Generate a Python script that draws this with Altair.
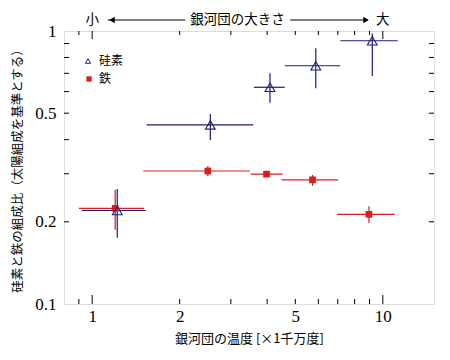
import altair as alt
import pandas as pd

# ---------------- data ----------------
series_names = ["硅素", "鉄"]

si_x = [1.22, 2.55, 4.09, 5.88, 9.2]
si_xlo = [0.92, 1.54, 3.6, 4.6, 7.14]
si_xhi = [1.53, 3.58, 4.6, 7.14, 11.25]
si_y = [0.22, 0.453, 0.622, 0.746, 0.921]
si_ylo = [0.175, 0.399, 0.546, 0.617, 0.684]
si_yhi = [0.264, 0.497, 0.70, 0.864, 0.98]

fe_x = [1.20, 2.50, 3.98, 5.73, 8.96]
fe_xlo = [0.90, 1.50, 3.51, 4.48, 6.95]
fe_xhi = [1.51, 3.49, 4.52, 7.01, 11.0]
fe_y = [0.224, 0.307, 0.299, 0.285, 0.213]
fe_ylo = [0.187, 0.294, 0.292, 0.271, 0.198]
fe_yhi = [0.262, 0.32, 0.307, 0.297, 0.228]

x_label_values = [1, 2, 5, 10]
y_label_values = [0.1, 0.2, 0.5, 1]
x_minor_ticks = [0.9, 2, 3, 4, 5, 6, 7, 8, 9]
x_major_ticks = [1, 10]
y_minor_ticks = [0.2, 0.3, 0.4, 0.5, 0.6, 0.7, 0.8, 0.9]

ann_x = [1, 3.162, 10]
ann_text = ["小", "銀河団の大きさ", "大"]
arrow_x1 = [1.13, 4.8]
arrow_x2 = [2.09, 8.9]
head_left_x = [1.17]
head_right_x = [8.75]

NAVY = "#1c1c78"
RED = "#d81e1e"
W, H = 370, 273
SERIF = "Liberation Serif"
CJK = "Noto Sans CJK JP"

# ---------------- tables ----------------
df = pd.DataFrame({
    "series": [series_names[0]] * 5 + [series_names[1]] * 5,
    "x": si_x + fe_x, "xlo": si_xlo + fe_xlo, "xhi": si_xhi + fe_xhi,
    "y": si_y + fe_y, "ylo": si_ylo + fe_ylo, "yhi": si_yhi + fe_yhi,
})
df_fe = df[df.series == series_names[1]]
df_si = df[df.series == series_names[0]]

xs = alt.Scale(type="log", domain=[0.8, 15], nice=False)
ys = alt.Scale(type="log", domain=[0.1, 1], nice=False)

X = alt.X("x:Q", scale=xs, title="銀河団の温度 [×1千万度]",
          axis=alt.Axis(values=x_label_values, format="~g", ticks=False, domain=False, grid=False,
                        labelFont=SERIF, labelFontSize=17, labelColor="black",
                        labelPadding=4, labelFlush=False,
                        titleFont=CJK, titleFontSize=13, titleFontWeight="normal",
                        titleColor="black", titlePadding=8))
Y = alt.Y("y:Q", scale=ys, title="硅素と鉄の組成比（太陽組成を基準とする）",
          axis=alt.Axis(values=y_label_values, format="~g", ticks=False, domain=False, grid=False,
                        labelFont=SERIF, labelFontSize=17, labelColor="black",
                        labelPadding=8, labelFlush=False,
                        titleFont=CJK, titleFontSize=12.5, titleFontWeight="normal",
                        titleColor="black", titlePadding=10))


def errbars(d, color):
    h = alt.Chart(d).mark_rule(color=color, strokeWidth=1.2).encode(
        x=alt.X("xlo:Q", scale=xs), x2="xhi:Q", y=alt.Y("y:Q", scale=ys))
    v = alt.Chart(d).mark_rule(color=color, strokeWidth=1.2).encode(
        x=alt.X("x:Q", scale=xs), y=alt.Y("ylo:Q", scale=ys), y2="yhi:Q")
    return h + v


fe_pts = alt.Chart(df_fe).mark_point(shape="square", filled=True, color=RED, size=45,
                                     opacity=1).encode(x=X, y=Y)
si_pts = alt.Chart(df_si).mark_point(shape="triangle-up", filled=False, color=NAVY, size=95,
                                     strokeWidth=1.1, opacity=1).encode(x=X, y=Y)

# legend (drawn as marks)
leg_si_sym = alt.Chart(pd.DataFrame({"s": [series_names[0]]})).mark_point(
    shape="triangle-up", filled=False, color=NAVY, size=28, strokeWidth=1, opacity=1).encode(
    x=alt.value(24), y=alt.value(30))
leg_fe_sym = alt.Chart(pd.DataFrame({"s": [series_names[1]]})).mark_point(
    shape="square", filled=True, color=RED, size=28, opacity=1).encode(
    x=alt.value(25), y=alt.value(48))
leg_si_txt = alt.Chart(pd.DataFrame({"s": [series_names[0]]})).mark_text(
    font=CJK, fontSize=12, color="black", align="left", baseline="middle").encode(
    x=alt.value(35), y=alt.value(30), text="s:N")
leg_fe_txt = alt.Chart(pd.DataFrame({"s": [series_names[1]]})).mark_text(
    font=CJK, fontSize=12, color="black", align="left", baseline="middle").encode(
    x=alt.value(35), y=alt.value(48), text="s:N")

# tick marks (inward)
tx_min = pd.DataFrame({"t": x_minor_ticks})
tx_maj = pd.DataFrame({"t": x_major_ticks})
ty_min = pd.DataFrame({"t": y_minor_ticks})


def xticks(d, length_bottom, length_top):
    b = alt.Chart(d).mark_rule(color="black", strokeWidth=1).encode(
        x=alt.X("t:Q", scale=xs), y=alt.value(H), y2=alt.value(H - length_bottom))
    t = alt.Chart(d).mark_rule(color="black", strokeWidth=1).encode(
        x=alt.X("t:Q", scale=xs), y=alt.value(0), y2=alt.value(length_top))
    return b + t


yl = alt.Chart(ty_min).mark_rule(color="black", strokeWidth=1).encode(
    y=alt.Y("t:Q", scale=ys), x=alt.value(0), x2=alt.value(5))
yr = alt.Chart(ty_min).mark_rule(color="black", strokeWidth=1).encode(
    y=alt.Y("t:Q", scale=ys), x=alt.value(W), x2=alt.value(W - 5))

# top annotation
ann = pd.DataFrame({"x": ann_x, "text": ann_text})
arr = pd.DataFrame({"x1": arrow_x1, "x2": arrow_x2})
ann_text_layer = alt.Chart(ann).mark_text(font=CJK, fontSize=13.5, color="black",
                                          baseline="middle").encode(
    x=alt.X("x:Q", scale=xs), y=alt.value(-11), text="text:N")
arr_layer = alt.Chart(arr).mark_rule(color="black", strokeWidth=1).encode(
    x=alt.X("x1:Q", scale=xs), x2="x2:Q", y=alt.value(-11))
head_l = alt.Chart(pd.DataFrame({"x": head_left_x})).mark_point(
    shape="triangle-left", filled=True, color="black", size=40, opacity=1).encode(
    x=alt.X("x:Q", scale=xs), y=alt.value(-11))
head_r = alt.Chart(pd.DataFrame({"x": head_right_x})).mark_point(
    shape="triangle-right", filled=True, color="black", size=40, opacity=1).encode(
    x=alt.X("x:Q", scale=xs), y=alt.value(-11))

chart = alt.layer(
    errbars(df_fe, RED), errbars(df_si, NAVY), fe_pts, si_pts,
    leg_si_sym, leg_fe_sym, leg_si_txt, leg_fe_txt,
    xticks(tx_min, 5, 4), xticks(tx_maj, 9, 8), yl, yr,
    arr_layer, head_l, head_r, ann_text_layer,
).properties(
    width=W, height=H,
    autosize=alt.AutoSizeParams(type="none"),
    padding={"left": 56, "top": 23, "right": 8, "bottom": 45},
).configure_view(stroke="black", strokeWidth=1.2).configure(background="white")

chart.save("out.html", embed_options={"renderer": "svg", "actions": False})
